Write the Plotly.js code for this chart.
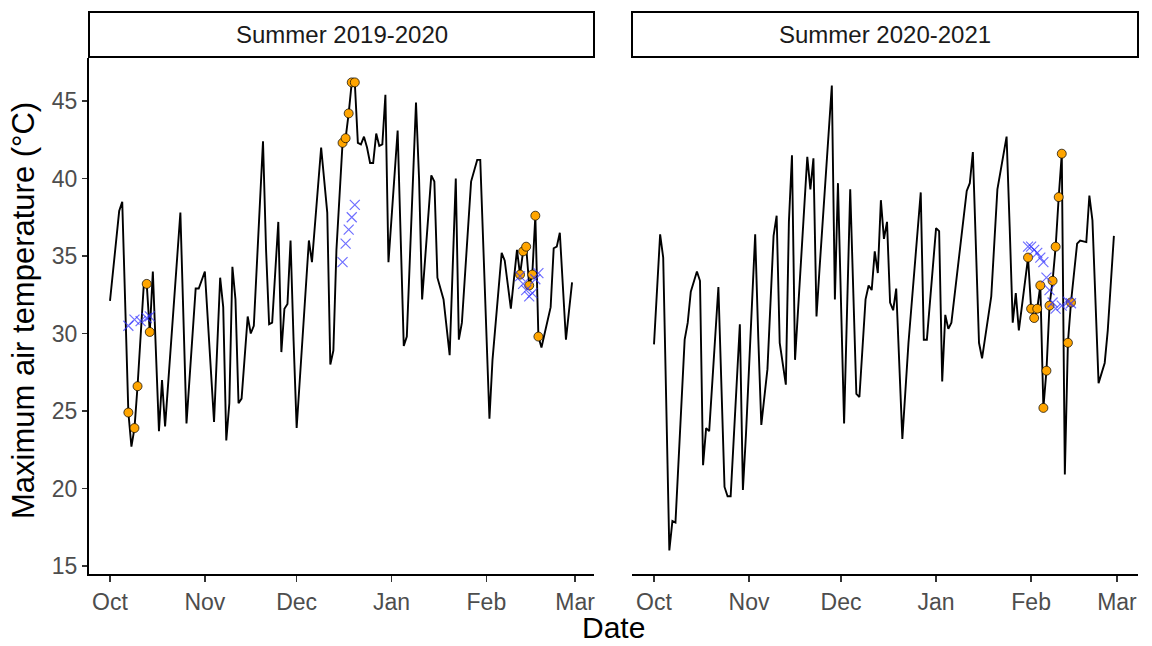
<!DOCTYPE html>
<html>
<head>
<meta charset="utf-8">
<script src="https://cdn.plot.ly/plotly-3.0.1.min.js"></script>
<style>html,body{margin:0;padding:0;background:#fff;} #chart{width:1152px;height:646px;}</style>
</head>
<body>
<div id="chart"></div>
<script>
// ---------- DATA (day offsets from 1 Oct of each season) ----------
const season_labels = ["Summer 2019-2020", "Summer 2020-2021"];
const season_start = ["2019-10-01", "2020-10-01"];
const month_ticks_1 = ["2019-10-01","2019-11-01","2019-12-01","2020-01-01","2020-02-01","2020-03-01"];
const month_ticks_2 = ["2020-10-01","2020-11-01","2020-12-01","2021-01-01","2021-02-01","2021-03-01"];
const month_labels = ["Oct","Nov","Dec","Jan","Feb","Mar"];
const y_ticks = [15, 20, 25, 30, 35, 40, 45];

// Season 1 daily max temperature (line)
const s1_day  = [0,3,4,6,7,8,9,11,12,13,14,16,17,18,23,25,28,29,31,34,36,37,38,39,40,41,42,43,45,46,47,50,51,52,53,55,56,57,58,59,60,61,65,66,69,71,72,73,74,76,77,78,79,80,81,82,83,84,85,86,87,88,89,90,91,94,96,97,100,101,102,105,106,107,109,111,113,114,115,118,120,121,124,125,128,129,131,133,134,135,136,137,138,139,140,141,144,145,146,147,149,151];
const s1_temp = [32.1,37.9,38.5,24.9,22.7,23.9,26.6,33.0,33.2,30.1,34.0,23.7,27.0,24.0,37.8,24.2,32.9,32.9,34.0,24.3,33.6,31.7,23.1,25.5,34.3,32.2,25.5,25.8,31.1,30.0,30.5,42.4,35.4,30.6,30.7,37.2,28.8,31.6,31.9,36.0,29.5,23.9,36.0,34.6,42.0,37.8,28.0,28.9,35.4,42.3,42.6,44.2,46.2,46.2,42.3,42.2,42.7,42.0,41.0,41.0,42.9,42.1,42.2,45.4,34.6,43.1,29.2,29.8,44.9,40.0,32.2,40.2,39.8,33.6,32.2,28.6,40.0,29.6,30.7,39.8,41.2,41.2,24.5,28.3,35.2,34.7,31.6,35.4,33.8,35.3,35.6,33.1,33.8,37.6,29.8,29.1,31.7,35.5,35.6,36.5,29.6,33.3];
// Season 1 event days (orange points)
const s1_event_day  = [6,8,9,12,13,76,77,78,79,80,134,135,136,137,138,139,140];
const s1_event_temp = [24.9,23.9,26.6,33.2,30.1,42.3,42.6,44.2,46.2,46.2,33.8,35.3,35.6,33.1,33.8,37.6,29.8];
// Season 1 comparison values (blue crosses)
const s1_cross_day  = [6,8,10,12,13,76,77,78,79,80,134,135,136,137,138,139,140];
const s1_cross_temp = [30.5,30.9,30.8,31.0,31.1,34.6,35.8,36.7,37.5,38.3,33.7,33.2,32.8,32.4,32.6,33.5,33.9];

// Season 2 daily max temperature (line)
const s2_day  = [0,2,3,5,6,7,10,11,12,14,15,16,17,18,21,23,24,25,28,29,30,33,34,35,37,39,40,41,43,44,45,46,50,51,52,53,54,58,59,60,62,63,64,66,67,69,70,71,72,73,74,75,76,77,78,79,81,83,87,88,89,92,93,94,95,96,97,102,103,104,106,107,110,112,115,116,117,118,119,122,123,124,125,126,127,128,129,130,131,132,133,134,135,136,138,139,141,142,143,145,147,148,150];
const s2_temp = [29.3,36.4,34.9,16.0,17.9,17.8,29.6,30.7,32.7,34.0,33.4,21.5,23.9,23.7,33.0,20.1,19.5,19.5,30.6,19.9,23.5,36.4,29.8,24.1,27.7,36.3,37.6,29.4,26.7,37.2,41.5,28.3,41.4,39.3,41.3,31.1,34.2,46.0,32.2,39.7,24.2,32.7,39.3,26.1,25.9,32.2,33.1,32.8,35.3,33.9,38.6,36.1,37.2,32.0,31.5,32.9,23.2,29.4,39.1,29.6,29.6,36.8,36.6,26.9,31.2,30.3,30.7,39.2,39.7,41.7,29.4,28.4,32.4,39.3,42.7,36.9,30.7,32.6,30.2,34.9,31.6,31.0,31.6,33.1,25.2,27.6,31.8,33.4,35.6,38.8,41.6,20.9,29.4,32.0,35.8,36.0,35.9,38.9,37.3,26.8,28.1,30.2,36.3];
const s2_event_day  = [122,123,124,125,126,127,128,129,130,131,132,133,135,136];
const s2_event_temp = [34.9,31.6,31.0,31.6,33.1,25.2,27.6,31.8,33.4,35.6,38.8,41.6,29.4,32.0];
const s2_cross_day  = [122,123,124,125,126,127,128,129,130,131,133,135,136];
const s2_cross_temp = [35.6,35.6,35.4,35.2,34.9,34.6,33.6,32.8,32.0,31.6,31.8,32.05,31.95];

// ---------- helpers ----------
function toDate(start, d) {
  const ms = Date.parse(start + "T00:00:00Z") + d * 86400000;
  return new Date(ms).toISOString().replace("T", " ").slice(0, 19);
}
const dates = (start, arr) => arr.map(d => toDate(start, d));

const W = 1152, H = 646;
const px = v => v / W, py = v => 1 - v / H;
const panel1 = [89, 594], panel2 = [632, 1138];
const plotTop = 58, plotBot = 574;

const lineStyle = {color: "#000000", width: 1.9};
const eventMarker = {color: "#FFA500", size: 9, line: {color: "#000000", width: 0.7}};
const crossMarker = {symbol: "x-thin", size: 10, color: "rgba(50,50,255,0.7)", line: {color: "rgba(50,50,255,0.7)", width: 1.2}};

function seasonTraces(start, day, temp, eday, etemp, cday, ctemp, xa, ya) {
  return [
    {type: "scatter", mode: "lines", x: dates(start, day), y: temp, line: lineStyle, xaxis: xa, yaxis: ya, hoverinfo: "skip"},
    {type: "scatter", mode: "markers", x: dates(start, eday), y: etemp, marker: eventMarker, xaxis: xa, yaxis: ya},
    {type: "scatter", mode: "markers", x: dates(start, cday), y: ctemp, marker: crossMarker, xaxis: xa, yaxis: ya}
  ];
}

const traces = [].concat(
  seasonTraces(season_start[0], s1_day, s1_temp, s1_event_day, s1_event_temp, s1_cross_day, s1_cross_temp, "x", "y"),
  seasonTraces(season_start[1], s2_day, s2_temp, s2_event_day, s2_event_temp, s2_cross_day, s2_cross_temp, "x2", "y2")
);

const tickFont = {family: "Liberation Sans, Arial, sans-serif", size: 23, color: "#4D4D4D"};
const xCommon = {
  type: "date", ticks: "outside", ticklen: 6, tickwidth: 1.5, tickcolor: "#333333",
  showline: true, linecolor: "#000000", linewidth: 2, showgrid: false, zeroline: false,
  tickfont: tickFont, fixedrange: true
};
const yRange = [15 - (plotBot - 566) / 15.5, 15 + (566 - plotTop) / 15.5];

const layout = {
  width: W, height: H,
  margin: {l: 0, r: 0, t: 0, b: 0},
  paper_bgcolor: "#ffffff", plot_bgcolor: "#ffffff",
  showlegend: false,
  font: {family: "Liberation Sans, Arial, sans-serif"},
  xaxis: Object.assign({}, xCommon, {
    domain: [px(panel1[0]), px(panel1[1])], anchor: "y",
    range: [toDate(season_start[0], (panel1[0] - 110) / 3.06), toDate(season_start[0], (panel1[1] - 110) / 3.06)],
    tickvals: month_ticks_1, ticktext: month_labels
  }),
  xaxis2: Object.assign({}, xCommon, {
    domain: [px(panel2[0]), px(panel2[1])], anchor: "y2",
    range: [toDate(season_start[1], (panel2[0] - 654) / 3.066), toDate(season_start[1], (panel2[1] - 654) / 3.066)],
    tickvals: month_ticks_2, ticktext: month_labels
  }),
  yaxis: {
    domain: [py(plotBot), py(plotTop)], anchor: "x", range: yRange,
    tickvals: y_ticks, ticks: "outside", ticklen: 5, tickwidth: 1.5, tickcolor: "#333333",
    showline: true, linecolor: "#000000", linewidth: 2, showgrid: false, zeroline: false,
    tickfont: tickFont, fixedrange: true
  },
  yaxis2: {
    domain: [py(plotBot), py(plotTop)], anchor: "x2", range: yRange,
    showticklabels: false, ticks: "", showline: false, showgrid: false, zeroline: false, fixedrange: true
  },
  shapes: [panel1, panel2].map(p => ({
    type: "rect", xref: "paper", yref: "paper",
    x0: px(p[0]), x1: px(p[1]), y0: py(57), y1: py(12),
    line: {color: "#000000", width: 2}, fillcolor: "#ffffff", layer: "below"
  })),
  annotations: [
    {text: season_labels[0], xref: "paper", yref: "paper", x: px((panel1[0] + panel1[1]) / 2), y: py(34.5),
     showarrow: false, xanchor: "center", yanchor: "middle", font: {size: 24, color: "#1A1A1A"}},
    {text: season_labels[1], xref: "paper", yref: "paper", x: px((panel2[0] + panel2[1]) / 2), y: py(34.5),
     showarrow: false, xanchor: "center", yanchor: "middle", font: {size: 24, color: "#1A1A1A"}},
    {text: "Maximum air temperature (°C)", xref: "paper", yref: "paper", x: px(23), y: py(311),
     showarrow: false, textangle: -90, xanchor: "center", yanchor: "middle", font: {size: 31, color: "#000000"}},
    {text: "Date", xref: "paper", yref: "paper", x: px(613), y: 0,
     showarrow: false, xanchor: "center", yanchor: "bottom", font: {size: 30, color: "#000000"}}
  ]
};

Plotly.newPlot("chart", traces, layout, {staticPlot: true, displayModeBar: false});
</script>
</body>
</html>
